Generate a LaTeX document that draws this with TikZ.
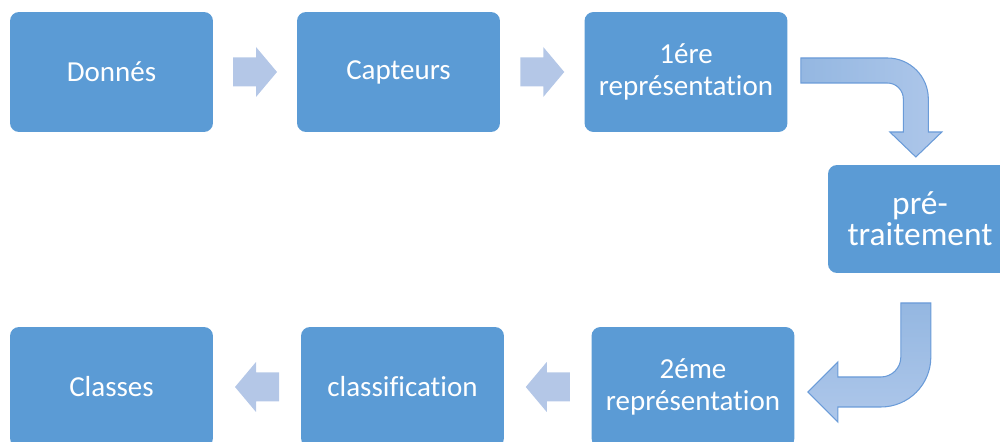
\documentclass[tikz,border=0pt]{standalone}
\usepackage{fontspec}
\setmainfont{Carlito}[Ligatures=CommonOff]
\usepackage{tikz}
\usetikzlibrary{calc}

\definecolor{boxblue}{HTML}{5B9BD5}
\definecolor{arrlight}{HTML}{B4C7E7}
\definecolor{bentdark}{HTML}{94B7E1}
\definecolor{bentlight}{HTML}{AEC7EA}
\definecolor{bentline}{HTML}{6A9BD8}

\begin{document}
\begin{tikzpicture}[x=0.02cm, y=0.02cm,
    etape/.style={rectangle, rounded corners=0.18cm, fill=boxblue, text=white, align=center,
      inner sep=0pt, minimum width=4.06cm, minimum height=2.4cm, font=\fontsize{16.5}{18.5}\selectfont},
    flecheplate/.pic={\fill[arrlight] (-22,-14.5) -- (1,-14.5) -- (1,-25) -- (22,0) -- (1,25) -- (1,14.5) -- (-22,14.5) -- cycle;},
    coude/.style={draw=bentline, line width=0.6pt}]
  \useasboundingbox (0,0) rectangle (1000,442);

  \node[etape] (donnes) at (111.5,370) {Donnés};
  \node[etape] (capteurs) at (398.5,370) {Capteurs};
  \node[etape] (rep1) at (686,370) {1ére\\représentation};
  \node[etape, minimum width=3.68cm, minimum height=2.16cm, font=\fontsize{19}{17.6}\selectfont] (pretrait) at (920,223) {pré-\\traitement};
  \node[etape] (rep2) at (693,55) {2éme\\représentation};
  \node[etape] (classif) at (402.5,55) {classification};
  \node[etape] (classes) at (111.5,55) {Classes};

  \pic at ($(donnes.east)!0.5!(capteurs.west)$) {flecheplate};
  \pic at ($(capteurs.east)!0.5!(rep1.west)$) {flecheplate};
  \pic[rotate=180] at ($(rep2.west)!0.5!(classif.east)$) {flecheplate};
  \pic[rotate=180] at ($(classif.west)!0.5!(classes.east)$) {flecheplate};

  % rep1 -> pretrait
  \begin{scope}[shift={(rep1.east)}]
    \path[coude, left color=bentdark, right color=bentlight] (13,14) -- (99.5,14) arc[start angle=90, end angle=0, radius=41]
      -- (140.5,-60) -- (154,-60) -- (128,-85) -- (102,-60) -- (115.5,-60) -- (115.5,-27)
      arc[start angle=0, end angle=90, radius=16] -- (13,-11) -- cycle;
  \end{scope}
  % pretrait -> rep2
  \begin{scope}[shift={(rep2.east)}]
    \path[coude, top color=bentdark, bottom color=bentlight] (106,84) -- (136,84) -- (136,30)
      arc[start angle=0, end angle=-90, radius=50] -- (43,-20) -- (43,-35) -- (13,-5) -- (43,25) -- (43,10) -- (86,10)
      arc[start angle=-90, end angle=0, radius=20] -- cycle;
  \end{scope}
\end{tikzpicture}
\end{document}
